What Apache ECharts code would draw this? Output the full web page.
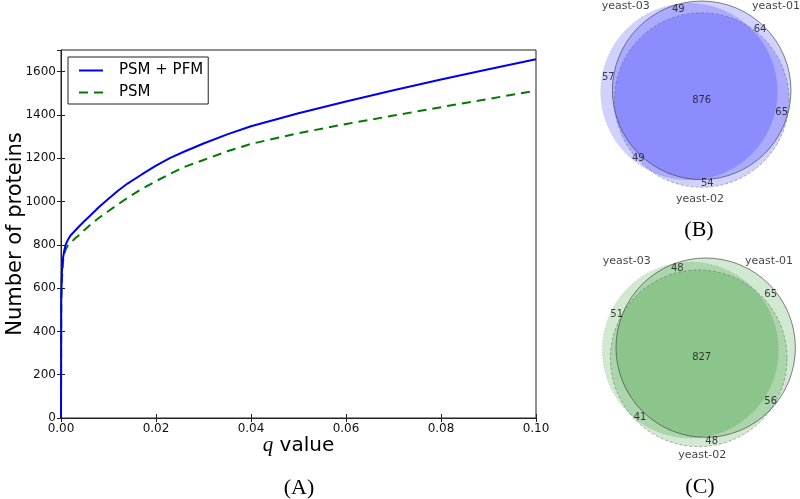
<!DOCTYPE html>
<html>
<head>
<meta charset="utf-8">
<script src="https://cdn.jsdelivr.net/npm/echarts@6/dist/echarts.min.js"></script>
<style>html,body{margin:0;padding:0;background:#fff}#c{width:800px;height:499px}</style>
</head>
<body>
<div id="c"></div>
<script>
// ---- Panel A data ----
var qValues = [0, 0.00005, 0.0002, 0.0004, 0.0007, 0.001, 0.0015, 0.002, 0.003, 0.004, 0.005, 0.006, 0.008, 0.01, 0.012, 0.014, 0.017, 0.02, 0.023, 0.026, 0.03, 0.035, 0.04, 0.05, 0.06, 0.07, 0.08, 0.09, 0.1];
var psmPfm = [0, 560, 680, 735, 775, 802, 825, 843, 866, 889, 911, 932, 975, 1013, 1050, 1083, 1125, 1166, 1202, 1231, 1268, 1310, 1348, 1408, 1462, 1514, 1564, 1611, 1657];
var psm    = [0, 520, 640, 720, 760, 780, 799, 810, 830, 849, 870, 889, 925, 956, 987, 1017, 1058, 1094, 1128, 1160, 1192, 1232, 1266, 1316, 1358, 1397, 1436, 1474, 1512];
var seriesNames = ['PSM + PFM', 'PSM'];

// ---- Venn diagrams (layout in venn units: cx, cy, r) ----
var setNames = ['yeast-01', 'yeast-02', 'yeast-03'];
var vennBCircles = [[0.021, 0.121, 1.116], [0.021, 0.0, 1.091], [-0.1375, 0.104, 1.104]];
var vennBCounts = [49, 64, 57, 876, 65, 49, 54];
var vennBCountPos = [[-0.271, 1.134], [0.75, 0.884], [-1.146, 0.2875], [0.021, 0.0], [1.021, -0.154], [-0.771, -0.729], [0.091, -1.041]];
var vennBNamePos = [[0.95, 1.175], [0.0, -1.241], [-0.929, 1.175]];

var vennCCircles = [[0.071, 0.029, 1.121], [-0.016, -0.104, 1.104], [-0.121, 0.0, 1.1]];
var vennCCounts = [48, 65, 51, 827, 56, 41, 48];
var vennCCountPos = [[-0.284, 1.025], [0.884, 0.696], [-1.041, 0.45], [0.021, -0.096], [0.884, -0.641], [-0.75, -0.841], [0.146, -1.1375]];
var vennCNamePos = [[0.8625, 1.116], [0.029, -1.3125], [-0.916, 1.116]];

var panelLabels = ['(A)', '(B)', '(C)'];

var FONT = 'DejaVu Sans';
var SERIF = 'Liberation Serif';

function pairs(xs, ys) { return xs.map(function (x, i) { return [x, ys[i]]; }); }

var outlineStyles = [
  {stroke: 'rgba(60,60,60,0.8)', lineWidth: 0.8, lineDash: null},
  {stroke: 'rgba(90,90,90,0.6)', lineWidth: 0.8, lineDash: [3, 2]},
  {stroke: 'rgba(90,90,90,0.35)', lineWidth: 0.8, lineDash: [1, 2]}
];

function circleFillSeries(idx, circles, fill) {
  return {
    type: 'custom', xAxisIndex: idx, yAxisIndex: idx, silent: true, z: 2,
    data: circles,
    renderItem: function (params, api) {
      var c = api.coord([api.value(0), api.value(1)]);
      var r = api.size([api.value(2), 0])[0];
      return {type: 'circle', shape: {cx: c[0], cy: c[1], r: r}, style: {fill: fill, stroke: null}};
    }
  };
}
function circleLineSeries(idx, circles) {
  return {
    type: 'custom', xAxisIndex: idx, yAxisIndex: idx, silent: true, z: 3,
    data: circles,
    renderItem: function (params, api) {
      var c = api.coord([api.value(0), api.value(1)]);
      var r = api.size([api.value(2), 0])[0];
      var s = outlineStyles[params.dataIndex];
      return {type: 'circle', shape: {cx: c[0], cy: c[1], r: r},
        style: {fill: null, stroke: s.stroke, lineWidth: s.lineWidth, lineDash: s.lineDash}};
    }
  };
}
function textSeries(idx, positions, texts, size, color) {
  return {
    type: 'scatter', xAxisIndex: idx, yAxisIndex: idx, silent: true, z: 5,
    symbolSize: 0, clip: false,
    data: positions.map(function (p, i) { return {value: [p[0], p[1]], name: String(texts[i])}; }),
    label: {show: true, position: 'inside', formatter: '{b}', fontFamily: FONT, fontSize: size, color: color}
  };
}

var option = {
  animation: false,
  backgroundColor: '#fff',
  textStyle: {fontFamily: FONT},
  grid: [
    {left: 61, top: 50, width: 475, height: 368, show: true, borderColor: '#222', borderWidth: 1, containLabel: false, outerBoundsMode: 'none'},
    {left: 580, top: -20, width: 240, height: 240, containLabel: false, outerBoundsMode: 'none'},
    {left: 580, top: 230, width: 240, height: 240, containLabel: false, outerBoundsMode: 'none'}
  ],
  legend: {
    data: seriesNames, orient: 'vertical', left: 68, top: 57,
    borderColor: '#222', borderWidth: 1, borderRadius: 0, backgroundColor: '#fff',
    padding: [6, 5, 4, 10], itemWidth: 24, itemHeight: 15, itemGap: 7,
    itemStyle: {color: 'rgba(0,0,0,0)', borderColor: 'rgba(0,0,0,0)', borderWidth: 0, opacity: 0},
    textStyle: {fontFamily: FONT, fontSize: 15, color: '#000', padding: [0, 0, 0, 11]}
  },
  xAxis: [
    {gridIndex: 0, type: 'value', min: 0, max: 0.1, interval: 0.02, position: 'bottom',
     name: '{q|q} value', nameLocation: 'middle', nameGap: 17, nameMoveOverlap: false,
     nameTextStyle: {fontFamily: FONT, fontSize: 20, color: '#000',
       rich: {q: {fontFamily: SERIF, fontStyle: 'italic', fontSize: 21, color: '#000'}}},
     axisLine: {show: true, lineStyle: {color: '#222'}},
     axisTick: {show: true, inside: true, length: 4, lineStyle: {color: '#222'}},
     axisLabel: {fontSize: 12, color: '#111', margin: 5, formatter: function (v) { return v.toFixed(2); }},
     splitLine: {show: false}},
    {gridIndex: 1, type: 'value', min: -1.5, max: 1.5, show: false},
    {gridIndex: 2, type: 'value', min: -1.5, max: 1.5, show: false},
    {gridIndex: 0, type: 'value', min: 0, max: 0.1, interval: 0.02, position: 'top',
     axisLine: {show: false}, axisLabel: {show: false}, splitLine: {show: false},
     axisTick: {show: true, inside: true, length: 4, lineStyle: {color: '#222'}}}
  ],
  yAxis: [
    {gridIndex: 0, type: 'value', min: 0, max: 1700, interval: 200,
     name: 'Number of proteins', nameLocation: 'middle', nameGap: 35, nameMoveOverlap: false,
     nameTextStyle: {fontFamily: FONT, fontSize: 21, color: '#000'},
     axisLine: {show: true, lineStyle: {color: '#222'}},
     axisTick: {show: true, inside: true, length: 4, lineStyle: {color: '#222'}},
     axisLabel: {fontSize: 12, color: '#111', margin: 5, showMaxLabel: false, formatter: function (v) { return String(v); }},
     splitLine: {show: false}},
    {gridIndex: 1, type: 'value', min: -1.5, max: 1.5, show: false},
    {gridIndex: 2, type: 'value', min: -1.5, max: 1.5, show: false},
    {gridIndex: 0, type: 'value', min: 0, max: 1700, interval: 200, position: 'right',
     axisLine: {show: false}, axisLabel: {show: false}, splitLine: {show: false},
     axisTick: {show: true, inside: true, length: 4, lineStyle: {color: '#222'}}}
  ],
  series: [
    {name: seriesNames[0], type: 'line', xAxisIndex: 0, yAxisIndex: 0, data: pairs(qValues, psmPfm),
     symbol: 'none', lineStyle: {color: '#0000ee', width: 2}, itemStyle: {color: '#0000ee'}, z: 4},
    {name: seriesNames[1], type: 'line', xAxisIndex: 0, yAxisIndex: 0, data: pairs(qValues, psm),
     symbol: 'none', lineStyle: {color: '#007a00', width: 2, type: [9, 6]}, itemStyle: {color: '#007a00'}, z: 3},
    circleFillSeries(1, vennBCircles, 'rgba(0,0,255,0.18)'),
    circleLineSeries(1, vennBCircles),
    textSeries(1, vennBCountPos, vennBCounts, 10, '#111'),
    textSeries(1, vennBNamePos, setNames, 11, '#111'),
    circleFillSeries(2, vennCCircles, 'rgba(0,128,0,0.18)'),
    circleLineSeries(2, vennCCircles),
    textSeries(2, vennCCountPos, vennCCounts, 10, '#111'),
    textSeries(2, vennCNamePos, setNames, 11, '#111')
  ],
  graphic: [
    {type: 'text', x: 299, y: 488, style: {text: panelLabels[0], font: '22px "Liberation Serif"', fill: '#000', textAlign: 'center', textVerticalAlign: 'middle'}},
    {type: 'text', x: 699, y: 230, style: {text: panelLabels[1], font: '22px "Liberation Serif"', fill: '#000', textAlign: 'center', textVerticalAlign: 'middle'}},
    {type: 'text', x: 700, y: 487, style: {text: panelLabels[2], font: '22px "Liberation Serif"', fill: '#000', textAlign: 'center', textVerticalAlign: 'middle'}}
  ]
};

var chart = echarts.init(document.getElementById('c'), null, {renderer: 'canvas'});
chart.setOption(option);
</script>
</body>
</html>
